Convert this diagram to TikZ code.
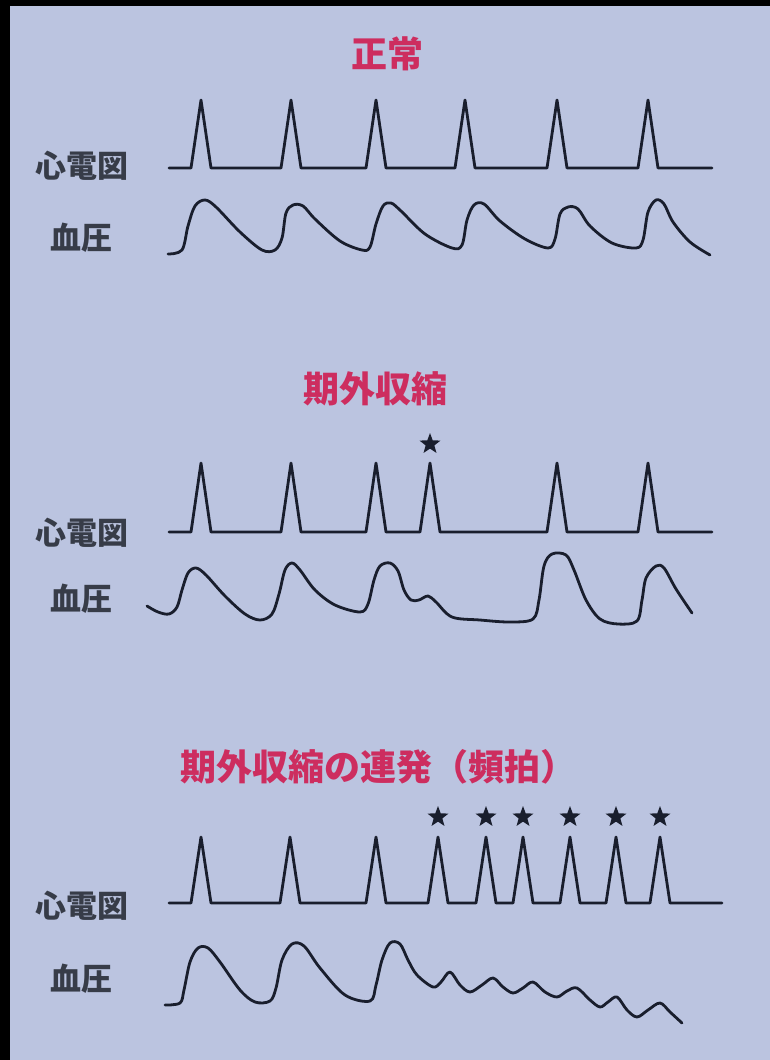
\documentclass[tikz,border=0pt]{standalone}
\usepackage{fontspec}
\usetikzlibrary{shapes.geometric}
\newfontfamily\jpfont{Noto Sans CJK JP}
\definecolor{panelbg}{RGB}{187,196,224}
\definecolor{titlered}{RGB}{205,45,95}
\definecolor{tracecol}{RGB}{25,30,45}
\definecolor{labelgray}{RGB}{55,60,72}

\begin{document}
\begin{tikzpicture}[line cap=round,line join=round,x=1pt,y=-1pt,
	trace/.style={line width=2.8pt,color=tracecol},
	ttl/.style={text=titlered,font=\jpfont\bfseries\fontsize{36}{40}\selectfont,inner sep=0pt},
	lbl/.style={text=labelgray,font=\jpfont\bfseries\fontsize{31}{34}\selectfont,inner sep=0pt},
	beatstar/.style={star,star points=5,star point ratio=2.4,fill=tracecol,draw=none,minimum size=22pt,inner sep=0pt}]
			\fill [black] (0,0) rectangle (770,1060);
			\fill [panelbg] (10,6) rectangle (770,1060);
			% normal
			\node [ttl] (title1) at (387,54) {正常};
			\node [lbl] (ecg1) at (82,166) {心電図};
			\node [lbl] (bp1) at (81,238) {血圧};
			\draw [trace] (169,168) -- (191,168) -- (201,100) -- (211,168) -- (281,168) -- (291,100) -- (301,168) -- (366,168) -- (376,100) -- (386,168) -- (455,168) -- (465,100) -- (475,168) -- (547,168) -- (557,100) -- (567,168) -- (638,168) -- (648,100) -- (658,168) -- (712,168);
			\draw [trace] plot [smooth,tension=0.55] coordinates {(168,254) (182,250) (188,226) (195,206) (205,200) (216,207) (240,232) (262,250) (275,250) (282,238) (286,213) (293,205) (303,206) (315,219) (340,241) (362,250) (370,247) (376,224) (383,206) (391,203) (401,211) (425,234) (452,248) (462,245) (467,220) (474,205) (484,204) (500,221) (525,239) (548,248) (555,239) (560,214) (568,207) (578,209) (590,226) (612,243) (636,248) (643,240) (648,212) (656,200) (664,204) (673,222) (690,242) (710,255)};
			% extrasystole
			\node [ttl] (title2) at (375,389) {期外収縮};
			\node [lbl] (ecg2) at (82,533) {心電図};
			\node [lbl] (bp2) at (81,599) {血圧};
			\draw [trace] (169,532) -- (191,532) -- (201,463) -- (211,532) -- (281,532) -- (291,463) -- (301,532) -- (366,532) -- (376,463) -- (386,532) -- (420,532) -- (430,463) -- (440,532) -- (547,532) -- (557,463) -- (567,532) -- (638,532) -- (648,463) -- (658,532) -- (712,532);
			\node [beatstar] (star2) at (430,444) {};
			\draw [trace] plot [smooth,tension=0.55] coordinates {(147,606) (158,612) (169,614) (177,607) (182,590) (188,573) (196,568) (206,575) (225,596) (245,614) (260,620) (272,614) (279,594) (285,570) (292,563) (300,570) (315,590) (335,605) (360,612) (368,604) (374,580) (380,566) (390,563) (398,571) (404,590) (411,600) (419,600) (428,596) (436,602) (452,617) (480,620) (510,622) (533,619) (539,600) (544,566) (552,554) (566,555) (574,570) (586,600) (600,619) (618,624) (637,621) (642,600) (646,578) (656,566) (664,568) (676,589) (692,613)};
			% run of extrasystoles
			\node [ttl] (title3) at (378,767) {期外収縮の連発（頻拍）};
			\node [lbl] (ecg3) at (82,906) {心電図};
			\node [lbl] (bp3) at (81,979) {血圧};
			\draw [trace] (169,903) -- (191,903) -- (201,837) -- (211,903) -- (280,903) -- (290,837) -- (300,903) -- (366,903) -- (376,837) -- (386,903) -- (428,903) -- (438,837) -- (448,903) -- (476,903) -- (486,837) -- (496,903) -- (513,903) -- (523,837) -- (533,903) -- (560,903) -- (570,837) -- (580,903) -- (606,903) -- (616,837) -- (626,903) -- (650,903) -- (660,837) -- (670,903) -- (722,903);
			\node [beatstar] (star3a) at (438,817) {};
			\node [beatstar] (star3b) at (486,817) {};
			\node [beatstar] (star3c) at (523,817) {};
			\node [beatstar] (star3d) at (570,817) {};
			\node [beatstar] (star3e) at (616,817) {};
			\node [beatstar] (star3f) at (660,817) {};
			\draw [trace] plot [smooth,tension=0.55] coordinates {(165,1005) (180,1003) (184,990) (190,962) (198,948) (208,948) (220,962) (240,990) (255,1002) (270,1001) (276,988) (282,960) (292,944) (304,946) (320,968) (345,995) (370,1001) (376,985) (382,960) (390,943) (400,944) (408,960) (417,975) (433,987) (441,982) (450,972) (460,985) (470,992) (482,985) (493,978) (503,987) (513,993) (523,988) (533,982) (545,992) (557,997) (567,991) (577,988) (590,1000) (600,1007) (608,1002) (617,997) (627,1010) (637,1017) (648,1010) (660,1003) (670,1012) (682,1023)};
		\end{tikzpicture}
\end{document}
